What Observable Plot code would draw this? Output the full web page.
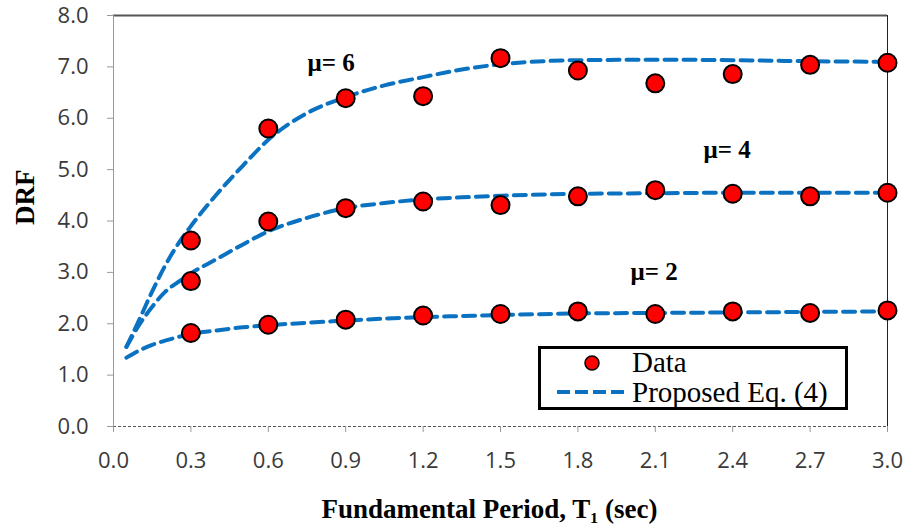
<!DOCTYPE html>
<html><head><meta charset="utf-8">
<script src="https://cdn.jsdelivr.net/npm/d3@7"></script>
<script src="https://cdn.jsdelivr.net/npm/@observablehq/plot@0.6"></script>
<style>
body{margin:0;background:#fff;}
#wrap{position:relative;width:907px;height:526px;}
#legend{position:absolute;left:538px;top:346px;}
</style></head><body><div id="wrap"></div>
<script>
// Measured data points
const periods = [0.3, 0.6, 0.9, 1.2, 1.5, 1.8, 2.1, 2.4, 2.7, 3.0];
const data6 = [3.62, 5.80, 6.39, 6.43, 7.17, 6.93, 6.68, 6.86, 7.04, 7.08];
const data4 = [2.83, 3.99, 4.25, 4.38, 4.31, 4.48, 4.60, 4.53, 4.48, 4.55];
const data2 = [1.82, 1.98, 2.08, 2.16, 2.19, 2.24, 2.19, 2.24, 2.21, 2.26];
// Proposed equation curves
const curveT = [0.05, 0.1, 0.15, 0.2, 0.25, 0.3, 0.4, 0.5, 0.6, 0.75, 0.9, 1.05, 1.2, 1.35, 1.5, 1.8, 2.1, 2.4, 2.7, 3.0];
const fit6 = [1.55, 2.08, 2.63, 3.13, 3.55, 3.90, 4.52, 5.07, 5.58, 6.10, 6.41, 6.64, 6.80, 6.95, 7.05, 7.13, 7.14, 7.13, 7.11, 7.10];
const fit4 = [1.55, 1.98, 2.33, 2.62, 2.81, 2.98, 3.26, 3.54, 3.80, 4.06, 4.25, 4.35, 4.42, 4.46, 4.49, 4.53, 4.54, 4.55, 4.55, 4.55];
const fit2 = [1.34, 1.48, 1.59, 1.67, 1.74, 1.80, 1.87, 1.93, 1.97, 2.02, 2.06, 2.10, 2.13, 2.15, 2.17, 2.20, 2.21, 2.22, 2.23, 2.24];
// Ticks
const xTicks = [0.0, 0.3, 0.6, 0.9, 1.2, 1.5, 1.8, 2.1, 2.4, 2.7, 3.0];
const yTicks = [0, 1, 2, 3, 4, 5, 6, 7, 8];
// Annotations
const muLabels = ["μ= 6", "μ= 4", "μ= 2"];
const muT = [0.752, 2.287, 2.004];
const muDRF = [7.07, 5.39, 3.0];

const series = [["6", data6, fit6], ["4", data4, fit4], ["2", data2, fit2]];
const dataRows = series.flatMap(([mu, d]) => periods.map((t, i) => ({mu, t, drf: d[i]})));
const fitRows = series.flatMap(([mu, , f]) => curveT.map((t, i) => ({mu, t, drf: f[i]})));
const labelRows = muLabels.map((text, i) => ({text, t: muT[i], drf: muDRF[i]}));

const blue = "#0b72c2";
const tickFont = "Open Sans";
const chart = Plot.plot({
  width: 907, height: 526,
  marginLeft: 113, marginRight: 20, marginTop: 15, marginBottom: 100,
  x: {domain: [0, 3]},
  y: {domain: [0, 8]},
  style: {background: "white", fontFamily: tickFont},
  marks: [
    Plot.ruleY([8], {stroke: "#555", strokeWidth: 2}),
    Plot.ruleX([3], {stroke: "#222", strokeWidth: 1}),
    Plot.ruleX([0], {stroke: "#999", strokeWidth: 1}),
    Plot.ruleY([0], {stroke: "#555", strokeWidth: 1, strokeDasharray: "3,2"}),
    Plot.axisX({ticks: xTicks, tickSize: 6, tickFormat: () => "", color: "#999", label: null}),
    Plot.axisX({ticks: xTicks, tickSize: 0, tickPadding: 26, tickFormat: d3.format(".1f"), color: "#3a3a3a", fontSize: 22, fontFamily: tickFont, label: null}),
    Plot.axisY({ticks: yTicks, tickSize: 6, tickFormat: () => "", color: "#999", label: null}),
    Plot.axisY({ticks: yTicks, tickSize: 0, tickPadding: 25, tickFormat: d3.format(".1f"), color: "#3a3a3a", fontSize: 22, fontFamily: tickFont, label: null}),
    Plot.line(fitRows, {x: "t", y: "drf", z: "mu", stroke: blue, strokeWidth: 4, strokeDasharray: "12,7", curve: "monotone-x"}),
    Plot.dot(dataRows, {x: "t", y: "drf", r: 9, fill: "#ff0000", stroke: "#000", strokeWidth: 2}),
    Plot.text(labelRows, {x: "t", y: "drf", text: "text", textAnchor: "start", lineAnchor: "middle", fontFamily: "Liberation Serif", fontWeight: "bold", fontSize: 25, fill: "#000"}),
    Plot.text(["Fundamental Period, T₁ (sec)"], {frameAnchor: "bottom", dx: -11, dy: 83, lineAnchor: "middle", fontFamily: "Liberation Serif", fontWeight: "bold", fontSize: 27, fill: "#000"}),
    Plot.text(["DRF"], {frameAnchor: "left", rotate: -90, dx: -88, dy: 4, lineAnchor: "middle", fontFamily: "Liberation Serif", fontWeight: "bold", fontSize: 27, fill: "#000"})
  ]
});
const wrap = document.getElementById("wrap");
wrap.append(chart);

// Legend
const legendItems = ["Data", "Proposed Eq. (4)"];
const lg = d3.create("svg").attr("id", "legend").attr("width", 312).attr("height", 66)
  .style("position", "absolute").style("left", "538px").style("top", "346px");
lg.append("rect").attr("x", 1.5).attr("y", 1.5).attr("width", 307).attr("height", 61)
  .attr("fill", "white").attr("stroke", "black").attr("stroke-width", 3);
lg.append("circle").attr("cx", 54).attr("cy", 17).attr("r", 7).attr("fill", "#ff0000").attr("stroke", "#000").attr("stroke-width", 1.5);
lg.append("line").attr("x1", 19).attr("x2", 91).attr("y1", 46).attr("y2", 46)
  .attr("stroke", blue).attr("stroke-width", 4).attr("stroke-dasharray", "13,5");
lg.selectAll("text.lab").data(legendItems).join("text").attr("class", "lab")
  .attr("x", 94).attr("y", (d, i) => i === 0 ? 26 : 56)
  .attr("font-family", "Liberation Serif").attr("font-size", 29).attr("fill", "#000")
  .text(d => d);
wrap.append(lg.node());
</script>
</body></html>
